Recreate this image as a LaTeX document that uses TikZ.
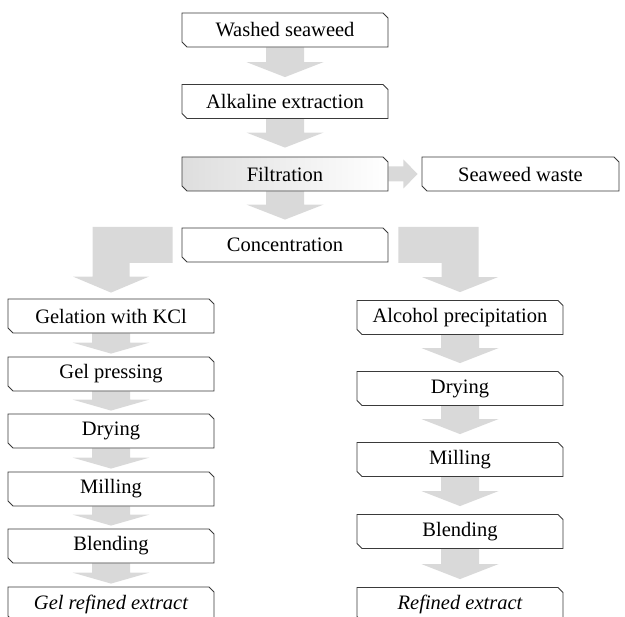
\documentclass[tikz,border=0pt]{standalone}
\usepackage{fontspec}
\setmainfont{Liberation Serif}
\usetikzlibrary{shapes.misc,calc,backgrounds}
\definecolor{arrowgray}{HTML}{D9D9D9}
\definecolor{edgegray}{HTML}{3A3A3A}
\newcommand{\flowdown}[4]{%
\fill[arrowgray] let \p1=(#1.south), \p2=(#2.north) in
(\x1-19pt,\y1) -- (\x1+19pt,\y1) -- (\x1+19pt,\y2+#3pt+#4pt) -- (\x1+38.5pt,\y2+#3pt+#4pt)
-- (\x1,\y2+#3pt) -- (\x1-38.5pt,\y2+#3pt+#4pt) -- (\x1-19pt,\y2+#3pt+#4pt) -- cycle;}
\begin{document}
\begin{tikzpicture}[x=1pt,y=-1pt,
box/.style={chamfered rectangle, chamfered rectangle corners={north east,south west},
chamfered rectangle xsep=2.5pt, chamfered rectangle ysep=2.5pt, draw=edgegray, line width=0.8pt,
fill=white, minimum width=206pt, minimum height=34pt, inner sep=0pt,
font=\fontsize{20.5}{24}\selectfont}]
\clip (0,0) rectangle (625,617);
\node[box] (wash) at (285,30){Washed seaweed};
\node[box] (alk) at (285,101.5){Alkaline extraction};
\node[box, left color=black!13, right color=white] (filt) at (285,174){Filtration};
\node[box, minimum width=197pt] (waste) at (520.5,174){Seaweed waste};
\node[box] (conc) at (285,245){Concentration};
\node[box] (gel) at (111,316){Gelation with KCl};
\node[box] (press) at (111,374){Gel pressing};
\node[box] (dryl) at (111,431){Drying};
\node[box] (mill) at (111,489){Milling};
\node[box] (blendl) at (111,546){Blending};
\node[box] (gelext) at (111,604){\itshape Gel refined extract};
\node[box] (alc) at (460,317.5){Alcohol precipitation};
\node[box] (dryr) at (460,388.5){Drying};
\node[box] (milr) at (460,459.5){Milling};
\node[box] (blendr) at (460,531.5){Blending};
\node[box] (refext) at (460,604.5){\itshape Refined extract};
\begin{scope}[on background layer]
\flowdown{wash}{alk}{7}{15}
\flowdown{alk}{filt}{9}{15}
\flowdown{filt}{conc}{8}{15}
\fill[arrowgray] let \p1=(filt.east), \p2=(waste.west) in
(\x1,\y1+7.5pt) -- (\x1+15pt,\y1+7.5pt) -- (\x1+15pt,\y1+14.5pt) -- (\x2-4pt,\y1)
-- (\x1+15pt,\y1-14.5pt) -- (\x1+15pt,\y1-7.5pt) -- (\x1,\y1-7.5pt) -- cycle;
\fill[arrowgray] let \p1=(conc.west), \p2=(gel.north) in
(\x1-9pt,\y1+18pt) -- (\x2-18.5pt,\y1+18pt) -- (\x2-18.5pt,\y2+22pt) -- (\x2-38pt,\y2+22pt)
-- (\x2,\y2+6pt) -- (\x2+38pt,\y2+22pt) -- (\x2+18.5pt,\y2+22pt) -- (\x2+18.5pt,\y1-18pt)
-- (\x1-9pt,\y1-18pt) -- cycle;
\fill[arrowgray] let \p1=(conc.east), \p2=(alc.north) in
(\x1+10pt,\y1+18pt) -- (\x2+18.5pt,\y1+18pt) -- (\x2+18.5pt,\y2+23pt) -- (\x2+38pt,\y2+23pt)
-- (\x2,\y2+8pt) -- (\x2-38pt,\y2+23pt) -- (\x2-18.5pt,\y2+23pt) -- (\x2-18.5pt,\y1-18pt)
-- (\x1+10pt,\y1-18pt) -- cycle;
\flowdown{gel}{press}{3}{11}
\flowdown{press}{dryl}{3}{11}
\flowdown{dryl}{mill}{3}{11}
\flowdown{mill}{blendl}{3}{11}
\flowdown{blendl}{gelext}{3}{11}
\flowdown{alc}{dryr}{8}{15}
\flowdown{dryr}{milr}{8}{15}
\flowdown{milr}{blendr}{8}{15}
\flowdown{blendr}{refext}{8}{15}
\end{scope}
\end{tikzpicture}
\end{document}
